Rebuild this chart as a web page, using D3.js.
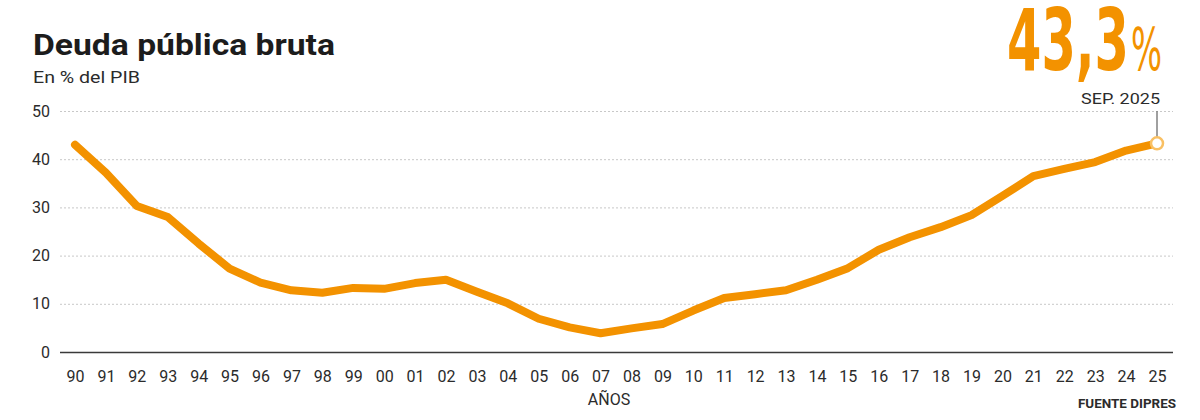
<!DOCTYPE html>
<html>
<head>
<meta charset="utf-8">
<script src="https://cdn.jsdelivr.net/npm/d3@7"></script>
<style>
  body { margin: 0; background: #fff; }
  svg text { font-family: Roboto, "Noto Sans", sans-serif; fill: #2b2b2b; }
</style>
</head>
<body>
<svg width="1200" height="420"></svg>
<script>
// data (% of GDP)
var years = [1990, 1991, 1992, 1993, 1994, 1995, 1996, 1997, 1998, 1999,
             2000, 2001, 2002, 2003, 2004, 2005, 2006, 2007, 2008, 2009,
             2010, 2011, 2012, 2013, 2014, 2015, 2016, 2017, 2018, 2019,
             2020, 2021, 2022, 2023, 2024, 2025];
var debt = [43.0, 37.2, 30.3, 28.0, 22.5, 17.3, 14.4, 12.8, 12.3, 13.3,
            13.1, 14.3, 15.0, 12.5, 10.1, 6.9, 5.1, 3.9, 4.9, 5.8,
            8.6, 11.2, 12.0, 12.8, 15.0, 17.4, 21.2, 23.8, 25.9, 28.4,
            32.4, 36.5, 38.0, 39.4, 41.8, 43.3];
var xLabels = ["90", "91", "92", "93", "94", "95", "96", "97", "98", "99",
               "00", "01", "02", "03", "04", "05", "06", "07", "08", "09",
               "10", "11", "12", "13", "14", "15", "16", "17", "18", "19",
               "20", "21", "22", "23", "24", "25"];
var yTicks = [0, 10, 20, 30, 40, 50];

var orange = "#f39200";
var svg = d3.select("svg");

var x = d3.scaleLinear().domain([1990, 2025]).range([75, 1157]);
var y = d3.scaleLinear().domain([0, 50]).range([352, 111]);

/// titles ///
svg.append("text")
  .attr("x", 33).attr("y", 55)
  .style("font-size", "30px").style("font-weight", 700)
  .style("fill", "#1c1c1c")
  .attr("textLength", 302).attr("lengthAdjust", "spacingAndGlyphs")
  .text("Deuda pública bruta");

svg.append("text")
  .attr("x", 33).attr("y", 83)
  .style("font-size", "16px")
  .attr("textLength", 107).attr("lengthAdjust", "spacingAndGlyphs")
  .text("En % del PIB");

// big figure
svg.append("text")
  .attr("x", 1007).attr("y", 70)
  .style("font-family", "'DejaVu Sans Condensed', 'DejaVu Sans'")
  .style("font-size", "86px").style("font-weight", 700)
  .style("fill", orange)
  .attr("textLength", 122).attr("lengthAdjust", "spacingAndGlyphs")
  .text("43,3");

svg.append("text")
  .attr("x", 1131).attr("y", 70)
  .style("font-family", "'DejaVu Sans Condensed', 'DejaVu Sans'")
  .style("font-size", "58px").style("font-weight", 400)
  .style("fill", orange)
  .attr("textLength", 31).attr("lengthAdjust", "spacingAndGlyphs")
  .text("%");

/// grid + y axis ///
var yAxis = d3.axisLeft(y).tickValues(yTicks).tickSize(-1113).tickPadding(10);
var gy = svg.append("g")
  .attr("transform", "translate(60,0)")
  .call(yAxis);
gy.select(".domain").remove();
gy.selectAll(".tick line")
  .attr("stroke", "#c8c8c8")
  .attr("stroke-dasharray", "2,2");
gy.selectAll(".tick text")
  .attr("x", -10)
  .style("font-size", "16px")
  .style("font-family", "Roboto, sans-serif")
  .attr("fill", "#2b2b2b");
gy.selectAll(".tick").filter(function(d) { return d === 0; }).select("line")
  .attr("stroke", "#3a3a3a")
  .attr("stroke-width", 1.5)
  .attr("stroke-dasharray", null);

/// x axis ///
var xAxis = d3.axisBottom(x).tickValues(years).tickSize(0).tickPadding(19)
  .tickFormat(function(d, i) { return xLabels[i]; });
var gx = svg.append("g")
  .attr("transform", "translate(0," + y(0) + ")")
  .call(xAxis);
gx.select(".domain").remove();
gx.selectAll(".tick text")
  .style("font-size", "16px")
  .style("font-family", "Roboto, sans-serif")
  .attr("fill", "#2b2b2b");

svg.append("text")
  .attr("x", 609).attr("y", 405)
  .attr("text-anchor", "middle")
  .style("font-size", "16px")
  .text("AÑOS");

svg.append("text")
  .attr("x", 1176).attr("y", 408)
  .attr("text-anchor", "end")
  .style("font-size", "12px").style("font-weight", 700)
  .attr("textLength", 98).attr("lengthAdjust", "spacingAndGlyphs")
  .text("FUENTE DIPRES");

/// line ///
var pts = years.map(function(d, i) { return [d, debt[i]]; });
var line = d3.line()
  .x(function(d) { return x(d[0]); })
  .y(function(d) { return y(d[1]); });

svg.append("path")
  .datum(pts)
  .attr("d", line)
  .attr("fill", "none")
  .attr("stroke", orange)
  .attr("stroke-width", 8)
  .attr("stroke-linejoin", "round")
  .attr("stroke-linecap", "round");

// last point marker
var last = pts[pts.length - 1];
svg.append("line")
  .attr("x1", x(last[0])).attr("x2", x(last[0]))
  .attr("y1", 111).attr("y2", y(last[1]) - 6)
  .attr("stroke", "#808080").attr("stroke-width", 1.5);

svg.append("circle")
  .attr("cx", x(last[0])).attr("cy", y(last[1]))
  .attr("r", 6)
  .attr("fill", "#fff")
  .attr("stroke", "#f9c063")
  .attr("stroke-width", 2.5);

svg.append("text")
  .attr("x", 1160).attr("y", 104)
  .attr("text-anchor", "end")
  .style("font-size", "15px")
  .attr("textLength", 79).attr("lengthAdjust", "spacingAndGlyphs")
  .text("SEP. 2025");
</script>
</body>
</html>
